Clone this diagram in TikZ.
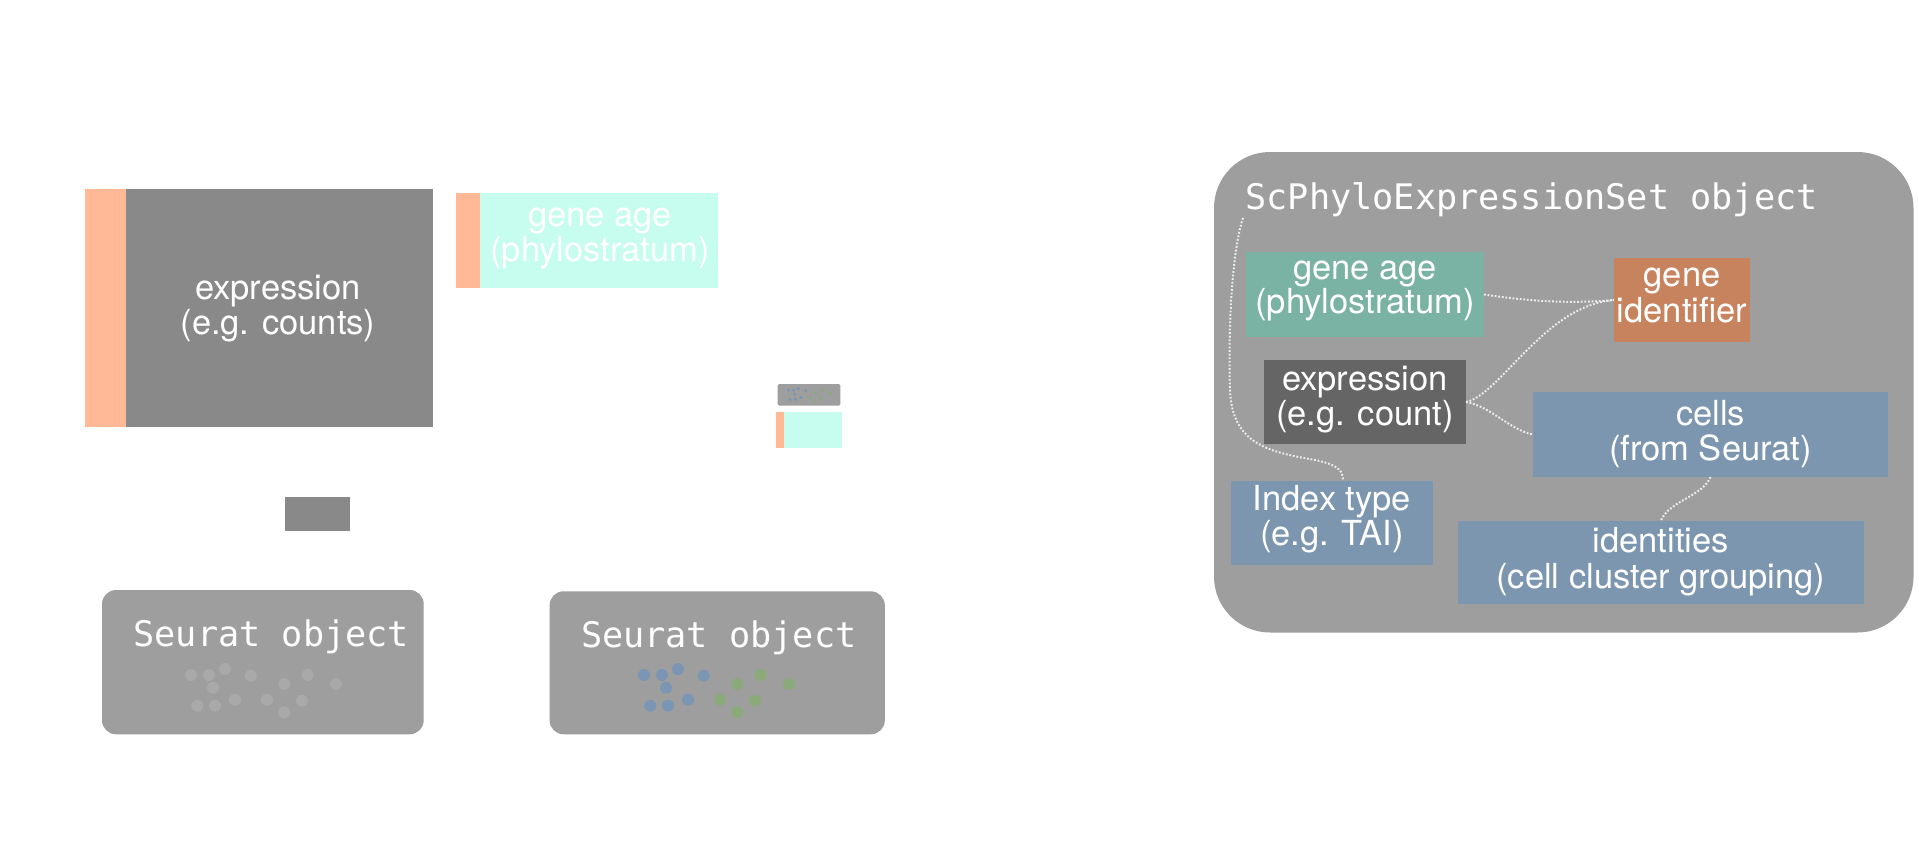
\documentclass[tikz,border=0pt]{standalone}
\usepackage{fontspec}
\setmainfont{TeX Gyre Heros}
\newfontfamily\codefont{DejaVu Sans Mono}
\definecolor{exgrey}{HTML}{898989}
\definecolor{stripor}{HTML}{FFB997}
\definecolor{agecyan}{HTML}{C7FDEF}
\definecolor{objgrey}{HTML}{9E9E9E}
\definecolor{dotgrey}{HTML}{A9A9A9}
\definecolor{dotblue}{HTML}{7B96B4}
\definecolor{dotgreen}{HTML}{8BAA7A}
\definecolor{teal}{HTML}{7AB2A3}
\definecolor{geneor}{HTML}{C7825E}
\definecolor{exdark}{HTML}{656565}
\definecolor{slot}{HTML}{7C96B0}
\definecolor{linkc}{HTML}{EDEDED}
\tikzset{
  box/.style={rectangle, inner sep=0pt, outer sep=0pt, draw=none},
  lbl/.style={inner sep=0pt, outer sep=0pt, anchor=base, text=white,
              font=\fontsize{34.5}{35}\selectfont},
  codelbl/.style={inner sep=0pt, outer sep=0pt, anchor=base west, text=white,
              font=\codefont\fontsize{35.2}{36}\selectfont},
  link/.style={draw=linkc, line width=2pt, dash pattern=on 1.8pt off 1.8pt}
}
\begin{document}
\begin{tikzpicture}[x=1pt,y=-1pt]
\useasboundingbox (0,0) rectangle (1919,844);
\fill[white] (0,0) rectangle (1919,844);

% ---------- left: expression matrix ----------
\node[box, fill=stripor, minimum width=41pt, minimum height=238pt] (bigstrip) at (105.5,308.3) {};
\node[box, fill=exgrey, minimum width=306.7pt, minimum height=238pt] (bigexpr) at (279.35,308.3) {};
\node[lbl] (bigexprA) at (278,299) {expression};
\node[lbl] (bigexprB) at (278,334) {(e.g. counts)};

\node[box, fill=exgrey, minimum width=65pt, minimum height=34pt] (smallexpr) at (317.5,514) {};

% ---------- gene age table ----------
\node[box, fill=stripor, minimum width=24pt, minimum height=95pt] (agestrip) at (468,240.8) {};
\node[box, fill=agecyan, minimum width=238pt, minimum height=95pt] (agebox) at (599,240.8) {};
\node[lbl] (ageA) at (600,226.7) {gene age};
\node[lbl] (ageB) at (600,261.7) {(phylostratum)};

% ---------- thumbnail ----------
\node[box, fill=objgrey, rounded corners=1.5pt, minimum width=62.6pt, minimum height=21.7pt] (thumbgrey) at (809,394.85) {};
\foreach \dx/\dy in {0/0, 18/0, 34/-6, 59.7/0.7, 22/12.7, 6.3/30.7, 24/30.7, 44/24.7}
  \fill[dotblue] (788.3+0.292*\dx, 390.3+0.292*\dy) circle[radius=1.75pt];
\foreach \dx/\dy in {76/24.7, 93.3/9, 116.7/0, 145/9, 111/25.7, 93.3/37.3}
  \fill[dotgreen] (788.3+0.292*\dx, 390.3+0.292*\dy) circle[radius=1.75pt];
\node[box, fill=stripor, minimum width=8pt, minimum height=35.4pt] (thumbstrip) at (780,430) {};
\node[box, fill=agecyan, minimum width=58pt, minimum height=35.4pt] (thumbcyan) at (813,430) {};

% ---------- Seurat objects ----------
\node[box, fill=objgrey, rounded corners=14pt, minimum width=321.7pt, minimum height=144.3pt] (seuratA) at (262.85,662.15) {};
\node[codelbl] (seuratAtxt) at (133.5,646.8) {Seurat object};
\foreach \dx/\dy in {0/0, 18/0, 34/-6, 59.7/0.7, 22/12.7, 6.3/30.7, 24/30.7, 44/24.7,
                     76/24.7, 93.3/9, 116.7/0, 145/9, 111/25.7, 93.3/37.3}
  \fill[dotgrey] (191+\dx, 675+\dy) circle[radius=6pt];

\node[box, fill=objgrey, rounded corners=14pt, minimum width=335.2pt, minimum height=143pt] (seuratB) at (717.2,662.8) {};
\node[codelbl] (seuratBtxt) at (581,647.5) {Seurat object};
\foreach \dx/\dy in {0/0, 18/0, 34/-6, 59.7/0.7, 22/12.7, 6.3/30.7, 24/30.7, 44/24.7}
  \fill[dotblue] (644+\dx, 675+\dy) circle[radius=6pt];
\foreach \dx/\dy in {76/24.7, 93.3/9, 116.7/0, 145/9, 111/25.7, 93.3/37.3}
  \fill[dotgreen] (644+\dx, 675+\dy) circle[radius=6pt];

% ---------- ScPhyloExpressionSet object ----------
\node[box, fill=objgrey, rounded corners=56pt, minimum width=699.5pt, minimum height=480.5pt] (scpes) at (1563.75,392.25) {};
\node[codelbl] (scpestxt) at (1245.5,209) {ScPhyloExpressionSet object};

\node[box, fill=teal, minimum width=238pt, minimum height=85pt] (geneage) at (1365,294.5) {};
\node[lbl] (geneageA) at (1365,279.3) {gene age};
\node[lbl] (geneageB) at (1365,313.3) {(phylostratum)};

\node[box, fill=geneor, minimum width=136pt, minimum height=84pt] (geneid) at (1682,300) {};
\node[lbl] (geneidA) at (1682,286.7) {gene};
\node[lbl] (geneidB) at (1682,322.3) {identifier};

\node[box, fill=exdark, minimum width=202pt, minimum height=84pt] (expr) at (1365,402) {};
\node[lbl] (exprA) at (1365,390) {expression};
\node[lbl] (exprB) at (1365,425) {(e.g. count)};

\node[box, fill=slot, minimum width=355pt, minimum height=85pt] (cells) at (1710.5,434.5) {};
\node[lbl] (cellsA) at (1710.5,425) {cells};
\node[lbl] (cellsB) at (1710.5,460) {(from Seurat)};

\node[box, fill=slot, minimum width=202pt, minimum height=84pt] (index) at (1332,523) {};
\node[lbl] (indexA) at (1332,510) {Index type};
\node[lbl] (indexB) at (1332,545.7) {(e.g. TAI)};

\node[box, fill=slot, minimum width=405.7pt, minimum height=83.6pt] (ident) at (1660.8,562.5) {};
\node[lbl] (identA) at (1660.8,552.3) {identities};
\node[lbl] (identB) at (1660.8,588.3) {(cell cluster grouping)};

% ---------- connectors ----------
\coordinate (tstart) at (1243,218);
\draw[link] (geneage.east) .. controls (1540,303) and (1580,303) .. (geneid.west);
\draw[link] (expr.east) .. controls (1500,395) and (1545,305) .. (geneid.west);
\draw[link] (expr.east) .. controls (1490,406) and (1510,430) .. (cells.west);
\draw[link] (cells.south) .. controls (1702,497) and (1670,500) .. (ident.north);
\draw[link] (tstart) .. controls (1232,250) and (1228,330) .. (1230,390)
            .. controls (1232,445) and (1270,452) .. (1315,460)
            .. controls (1340,465) and (1343,472) .. ([xshift=11pt]index.north);
\end{tikzpicture}
\end{document}
